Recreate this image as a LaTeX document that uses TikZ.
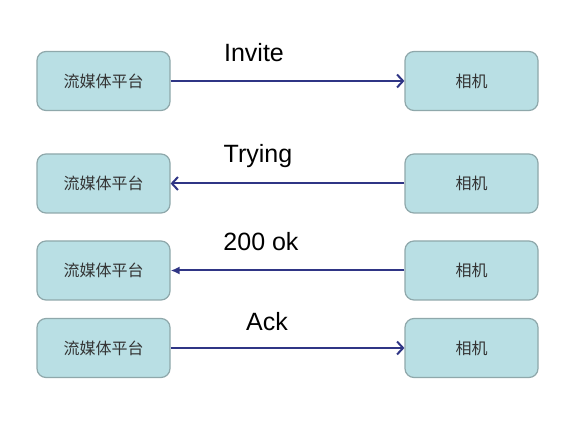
\documentclass[tikz,border=0pt]{standalone}
\usepackage{fontspec}
\setmainfont{Liberation Sans}
\newfontfamily\cjk{Noto Sans CJK SC}
\usetikzlibrary{arrows.meta}
\definecolor{boxfill}{HTML}{B9DFE4}
\definecolor{boxline}{HTML}{8FA8AB}
\definecolor{arrowc}{HTML}{2F3585}
\tikzset{
  box/.style={draw=boxline, line width=1.2pt, fill=boxfill, rounded corners=9pt,
    minimum width=133pt, minimum height=59pt, inner sep=0pt,
    font=\cjk\fontsize{16}{18}\selectfont, text=black!80},
  msg/.style={draw=arrowc, line width=2pt},
  vtip/.style={-{Straight Barb[length=6pt,width=13pt,line width=2pt]}},
  ftip/.style={-{Latex[length=9pt,width=8pt]}},
  lbl/.style={font=\fontsize{25}{29}\selectfont, text=black, inner sep=0pt}
}
\begin{document}
\begin{tikzpicture}[x=1pt,y=-1pt]
\useasboundingbox (0,0) rectangle (573,427);
\fill[white] (0,0) rectangle (573,427);
\node[box] (p1) at (103.5,81) {流媒体平台};
\node[box] (c1) at (471.5,81) {相机};
\node[box] (p2) at (103.5,183.5) {流媒体平台};
\node[box] (c2) at (471.5,183.5) {相机};
\node[box] (p3) at (103.5,270.5) {流媒体平台};
\node[box] (c3) at (471.5,270.5) {相机};
\node[box] (p4) at (103.5,348) {流媒体平台};
\node[box] (c4) at (471.5,348) {相机};
\draw[msg,vtip] (p1.east) -- (c1.west);
\draw[msg,vtip] (c2.west) -- (p2.east);
\draw[msg,ftip] (c3.west) -- (p3.east);
\draw[msg,vtip] (p4.east) -- (c4.west);
\node[lbl] (l1) at (254,53) {Invite};
\node[lbl] (l2) at (258,156) {Trying};
\node[lbl] (l3) at (261,242) {200 ok};
\node[lbl] (l4) at (267,322) {Ack};
\end{tikzpicture}
\end{document}
